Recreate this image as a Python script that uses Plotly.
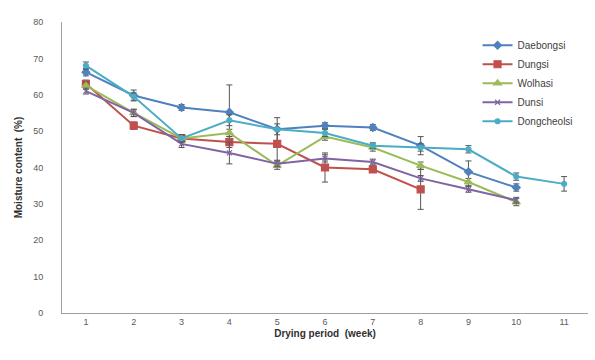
import plotly.graph_objects as go

weeks = [1, 2, 3, 4, 5, 6, 7, 8, 9, 10, 11]

daebongsi = [66.2, 59.8, 56.5, 55.2, 50.5, 51.5, 51.0, 46.0, 38.8, 34.5]
daebongsi_err = [1.0, 1.5, 0.8, 7.5, 3.2, 0.8, 0.8, 2.5, 3.0, 1.0]

dungsi = [63.0, 51.5, 48.0, 47.0, 46.5, 40.0, 39.5, 34.0]
dungsi_err = [1.0, 1.0, 0.8, 1.5, 4.5, 4.0, 0.8, 5.5]

wolhasi = [62.5, 55.0, 48.0, 49.5, 40.5, 48.5, 45.5, 40.5, 36.0, 30.5]
wolhasi_err = [1.0, 1.0, 1.0, 1.0, 1.0, 1.0, 1.0, 1.0, 1.0, 1.0]

dunsi = [61.0, 55.0, 46.5, 44.0, 41.0, 42.5, 41.5, 37.0, 34.0, 31.0]
dunsi_err = [0.8, 1.0, 1.0, 3.0, 0.8, 1.0, 0.8, 0.8, 0.8, 0.8]

dongcheolsi = [68.0, 59.5, 48.0, 53.0, 50.5, 49.5, 46.0, 45.5, 45.0, 37.5, 35.5]
dongcheolsi_err = [1.0, 1.0, 1.0, 1.5, 1.5, 1.0, 0.8, 1.0, 1.0, 1.0, 2.0]

series = [
    ("Daebongsi", daebongsi, daebongsi_err, "#4F81BD", "diamond", 6),
    ("Dungsi", dungsi, dungsi_err, "#C0504D", "square", 7),
    ("Wolhasi", wolhasi, wolhasi_err, "#9BBB59", "triangle-up", 7),
    ("Dunsi", dunsi, dunsi_err, "#8064A2", "x-thin-open", 5),
    ("Dongcheolsi", dongcheolsi, dongcheolsi_err, "#4BACC6", "circle", 5),
]

fig = go.Figure()
for name, vals, errs, color, sym, size in series:
    fig.add_trace(go.Scatter(
        x=weeks[:len(vals)], y=vals, name=name, mode="lines+markers",
        line=dict(color=color, width=2),
        marker=dict(symbol=sym, size=size, color=color, line=dict(color=color, width=1.2)),
        error_y=dict(type="data", array=errs, visible=True, color="#555555",
                     thickness=1, width=3),
    ))

fig.update_layout(
    width=595, height=360,
    margin=dict(l=62, r=7, t=22, b=47),
    paper_bgcolor="white", plot_bgcolor="white",
    font=dict(family="Liberation Sans, Arial, sans-serif", size=10, color="#595959"),
    showlegend=True,
    legend=dict(x=0.79, y=0.97, xanchor="left", yanchor="top",
                font=dict(size=10, color="#404040"),
                bgcolor="rgba(255,255,255,0)", tracegroupgap=0, itemwidth=30),
    xaxis=dict(
        range=[0.5, 11.5], tickmode="array", tickvals=weeks,
        ticktext=[str(w) for w in weeks],
        showgrid=False, zeroline=False, showline=True,
        linecolor="#A0A0A0", linewidth=1, ticks="",
        tickfont=dict(size=9, color="#595959"),
        title=dict(text="<b>Drying period  (week)</b>", standoff=4,
                   font=dict(size=10, color="#303030")),
    ),
    yaxis=dict(
        range=[0, 80], tickmode="array", tickvals=list(range(0, 81, 10)),
        showgrid=False, zeroline=False, showline=True,
        linecolor="#A0A0A0", linewidth=1, ticks="",
        tickfont=dict(size=9, color="#595959"), ticklabelstandoff=16,
        title=dict(text="<b>Moisture content  (%)</b>", standoff=8,
                   font=dict(size=10, color="#303030")),
    ),
)

fig.write_html("out.html")
